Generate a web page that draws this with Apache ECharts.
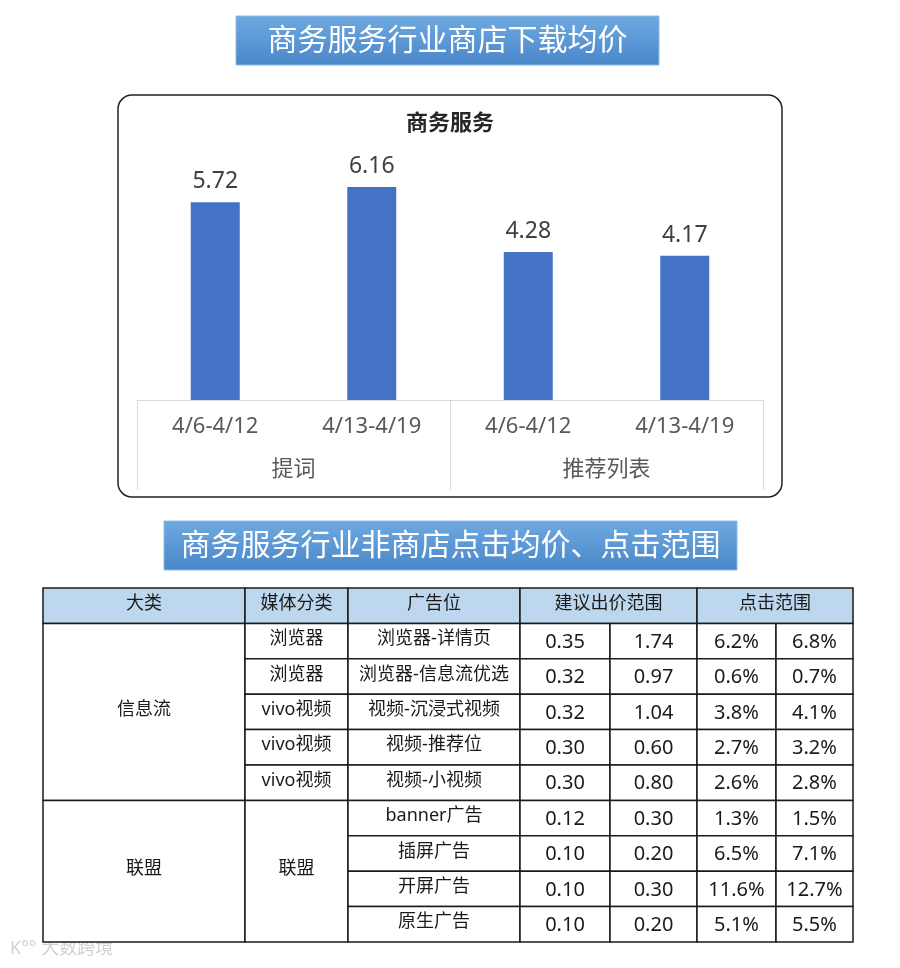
<!DOCTYPE html>
<html>
<head>
<meta charset="utf-8">
<script src="https://cdn.jsdelivr.net/npm/echarts@6/dist/echarts.min.js"></script>
<style>
  html, body { margin: 0; padding: 0; background: #fff; }
  #main { width: 900px; height: 968px; }
</style>
</head>
<body>
<div id="main"></div>
<script>
// ---- bar chart data ----
const weeks = ['4/6-4/12', '4/13-4/19', '4/6-4/12', '4/13-4/19'];
const groups = ['提词', '推荐列表'];
const avgPrice = [5.72, 6.16, 4.28, 4.17];

// ---- table data ----
const headers = ['大类', '媒体分类', '广告位', '建议出价范围', '点击范围'];
const bigCats = ['信息流', '联盟'];
const bigCatRows = [5, 4];
const mediaCats = ['浏览器', '浏览器', 'vivo视频', 'vivo视频', 'vivo视频', '联盟'];
const mediaRows = [1, 1, 1, 1, 1, 4];
const adSlots = ['浏览器-详情页', '浏览器-信息流优选', '视频-沉浸式视频', '视频-推荐位', '视频-小视频',
  'banner广告', '插屏广告', '开屏广告', '原生广告'];
const bidLow = [0.35, 0.32, 0.32, 0.30, 0.30, 0.12, 0.10, 0.10, 0.10];
const bidHigh = [1.74, 0.97, 1.04, 0.60, 0.80, 0.30, 0.20, 0.30, 0.20];
const clickLow = [6.2, 0.6, 3.8, 2.7, 2.6, 1.3, 6.5, 11.6, 5.1];
const clickHigh = [6.8, 0.7, 4.1, 3.2, 2.8, 1.5, 7.1, 12.7, 5.5];

// ---- layout ----
const FONT = '"Noto Sans", "Noto Sans CJK SC", sans-serif';
const colW = [202, 103, 172, 90, 87, 79, 77];
const colEdge = [0];
colW.forEach(w => colEdge.push(colEdge[colEdge.length - 1] + w));
const headSpan = [[0, 1], [1, 2], [2, 3], [3, 5], [5, 7]];

// build table cells: value = [x0, x1, r0, r1]
const cells = [];
const cellInfo = [];
function addCell(c0, c1, r0, r1, text, kind) {
    cells.push([colEdge[c0], colEdge[c1], r0, r1]);
    cellInfo.push({ text: text, kind: kind });
}
headers.forEach((h, i) => addCell(headSpan[i][0], headSpan[i][1], 0, 1, h, 'head'));
let r = 1;
bigCats.forEach((c, i) => { addCell(0, 1, r, r + bigCatRows[i], c, 'cjk'); r += bigCatRows[i]; });
r = 1;
mediaCats.forEach((c, i) => { addCell(1, 2, r, r + mediaRows[i], c, 'cjk'); r += mediaRows[i]; });
adSlots.forEach((s, i) => {
    const row = i + 1;
    addCell(2, 3, row, row + 1, s, 'cjk');
    addCell(3, 4, row, row + 1, bidLow[i].toFixed(2), 'num');
    addCell(4, 5, row, row + 1, bidHigh[i].toFixed(2), 'num');
    addCell(5, 6, row, row + 1, clickLow[i].toFixed(1) + '%', 'num');
    addCell(6, 7, row, row + 1, clickHigh[i].toFixed(1) + '%', 'num');
});

function renderCell(params, api) {
    const p0 = api.coord([api.value(0), api.value(2)]);
    const p1 = api.coord([api.value(1), api.value(3)]);
    const info = cellInfo[params.dataIndex];
    const x = p0[0], y = p0[1], w = p1[0] - p0[0], h = p1[1] - p0[1];
    const isNum = info.kind === 'num';
    return {
        type: 'group',
        children: [
            {
                type: 'rect',
                shape: { x: x, y: y, width: w, height: h },
                style: { fill: info.kind === 'head' ? '#bdd7ee' : '#fff', stroke: '#1a1a1a', lineWidth: 1.5 }
            },
            {
                type: 'text',
                x: x + w / 2,
                y: y + h / 2 + (isNum ? 1 : -2),
                style: {
                    text: info.text,
                    fontSize: isNum ? 20 : 18,
                    fontFamily: FONT,
                    fill: '#1a1a1a',
                    align: 'center',
                    verticalAlign: 'middle'
                }
            }
        ]
    };
}

function titleBox(x, y, w, h, text) {
    return {
        type: 'group',
        children: [
            {
                type: 'rect',
                shape: { x: x, y: y, width: w, height: h },
                style: {
                    fill: new echarts.graphic.LinearGradient(0, 0, 0, 1, [
                        { offset: 0, color: '#6ea9e0' },
                        { offset: 1, color: '#4a87c9' }
                    ]),
                    stroke: '#8dbbe6',
                    lineWidth: 1
                }
            },
            {
                type: 'text',
                x: x + w / 2,
                y: y + h / 2 + 1,
                style: {
                    text: text, fontSize: 30, fontFamily: FONT, fill: '#fff',
                    align: 'center', verticalAlign: 'middle'
                }
            }
        ]
    };
}

const chart = echarts.init(document.getElementById('main'));
const gridLine = '#d9d9d9';

chart.setOption({
    backgroundColor: '#fff',
    animation: false,
    title: {
        text: '商务服务',
        left: 'center',
        top: 108,
        textStyle: { fontSize: 22, fontWeight: 'bold', color: '#262626', fontFamily: FONT }
    },
    graphic: [
        titleBox(236, 16, 423, 49, '商务服务行业商店下载均价'),
        titleBox(164, 521, 573, 49, '商务服务行业非商店点击均价、点击范围'),
        {
            type: 'rect',
            shape: { x: 118, y: 95, width: 664, height: 402, r: 14 },
            style: { fill: 'none', stroke: '#222', lineWidth: 1.5 }
        },
        {
            type: 'text',
            left: 10,
            top: 940,
            style: { text: 'K°° 大数跨境', fontSize: 18, fontFamily: FONT, fill: 'rgba(190,190,190,0.7)' }
        }
    ],
    grid: [
        { left: 137, right: 137, top: 158, bottom: 568 },
        { left: 43, top: 588, width: 810, height: 354 }
    ],
    xAxis: [
        {
            type: 'category',
            gridIndex: 0,
            data: weeks,
            axisLine: { lineStyle: { color: gridLine, width: 1 } },
            axisTick: { show: false },
            axisLabel: { fontSize: 22, color: '#595959', margin: 16, fontFamily: FONT }
        },
        {
            type: 'category',
            gridIndex: 0,
            position: 'bottom',
            offset: 90,
            data: groups,
            axisLine: { show: false },
            axisTick: { show: true, inside: true, length: 90, lineStyle: { color: gridLine, width: 1 } },
            axisLabel: { inside: true, margin: 9, fontSize: 22, color: '#595959', fontFamily: FONT }
        },
        { type: 'value', gridIndex: 1, min: 0, max: colEdge[colEdge.length - 1], show: false }
    ],
    yAxis: [
        { type: 'value', gridIndex: 0, min: 0, max: 7, show: false },
        { type: 'value', gridIndex: 1, min: 0, max: 10, inverse: true, show: false }
    ],
    series: [
        {
            type: 'bar',
            xAxisIndex: 0,
            yAxisIndex: 0,
            data: avgPrice,
            barWidth: 49,
            itemStyle: { color: '#4472c4' },
            label: {
                show: true,
                position: 'top',
                distance: 9,
                fontSize: 23,
                color: '#404040',
                fontFamily: FONT
            }
        },
        {
            type: 'custom',
            xAxisIndex: 2,
            yAxisIndex: 1,
            clip: false,
            renderItem: renderCell,
            data: cells
        }
    ]
});
</script>
</body>
</html>
